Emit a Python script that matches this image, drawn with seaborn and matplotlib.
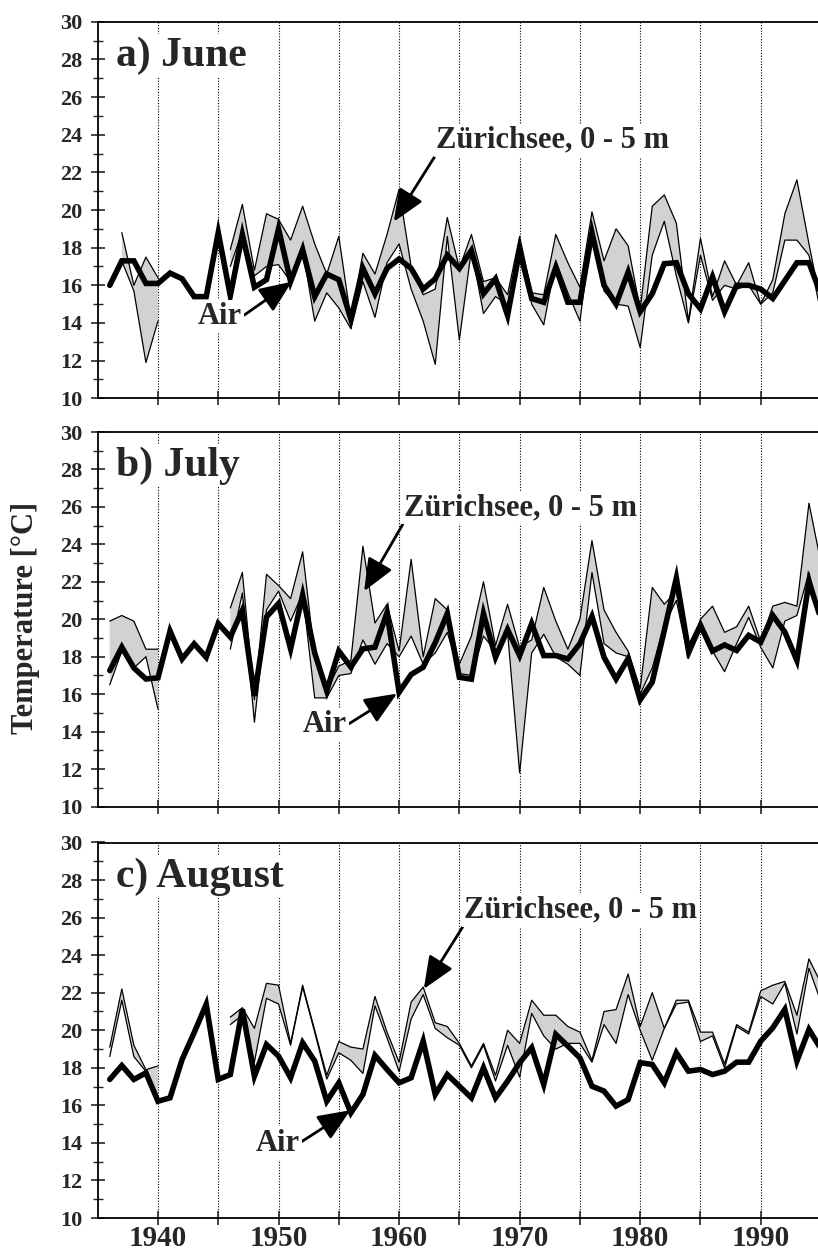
import numpy as np
import matplotlib
matplotlib.use("Agg")
import matplotlib.pyplot as plt
import seaborn as sns

nan = np.nan
years = list(range(1936, 1996))

june_air = [16.0, 17.3, 17.3, 16.1, 16.1, 16.65, 16.35, 15.4, 15.4, 18.8,
            15.45, 18.7, 15.9, 16.3, 19.0, 16.2, 17.9, 15.4, 16.6, 16.3,
            14.2, 16.9, 15.55, 16.9, 17.4, 16.9, 15.8, 16.35, 17.6, 16.9,
            17.85, 15.55, 16.35, 14.4, 17.85, 15.3, 15.1, 16.95, 15.1, 15.1,
            18.8, 16.0, 15.0, 16.7, 14.6, 15.55, 17.15, 17.2, 15.55, 14.75,
            16.45, 14.6, 16.0, 16.0, 15.8, 15.3, 16.25, 17.2, 17.2, 15.5]
june_lake_0m = [nan, 18.8, 16.0, 17.5, 16.4, nan, nan, nan, nan, nan,
                17.9, 20.3, 16.8, 19.8, 19.5, 18.4, 20.2, 18.2, 16.6, 18.6,
                14.2, 17.7, 16.6, 18.7, 21.1, 17.0, 15.5, 15.8, 19.6, 16.9,
                18.7, 16.2, 16.4, 15.5, 18.6, 15.6, 15.5, 18.7, 17.2, 15.9,
                19.9, 17.3, 19.0, 18.1, 14.7, 20.2, 20.8, 19.3, 14.1, 18.5,
                15.4, 17.3, 16.0, 17.2, 15.0, 16.3, 19.8, 21.6, 18.2, 15.0]
june_lake_5m = [nan, 17.3, 15.7, 11.9, 14.1, nan, nan, nan, nan, nan,
                17.0, 18.9, 16.5, 17.0, 17.1, 16.2, 17.9, 14.1, 15.6, 14.8,
                13.7, 16.2, 14.3, 17.2, 18.2, 15.8, 14.1, 11.8, 18.6, 13.1,
                17.9, 14.5, 15.4, 15.0, 17.9, 15.0, 13.9, 17.3, 15.6, 14.1,
                19.0, 15.7, 15.0, 14.9, 12.7, 17.6, 19.4, 16.5, 14.0, 17.6,
                15.2, 16.0, 15.8, 16.0, 15.0, 15.6, 18.4, 18.4, 17.6, 14.5]

july_air = [17.26, 18.51, 17.4, 16.81, 16.87, 19.37, 17.88, 18.69, 17.97, 19.77,
            19.05, 20.48, 15.91, 20.12, 20.84, 18.42, 21.29, 18.2, 16.18, 18.3,
            17.45, 18.42, 18.51, 20.35, 16.1, 17.05, 17.44, 18.75, 20.3, 16.9,
            16.8, 20.3, 17.97, 19.45, 18.06, 19.77, 18.06, 18.06, 17.88, 18.7,
            20.15, 17.97, 16.81, 17.9, 15.7, 16.64, 19.4, 22.2, 18.35, 19.68,
            18.3, 18.63, 18.33, 19.14, 18.78, 20.2, 19.32, 17.8, 22.0, 20.0]
july_lake_0m = [19.9, 20.2, 19.9, 18.4, 18.4, nan, nan, nan, nan, nan,
                20.6, 22.5, 15.7, 22.4, 21.8, 21.1, 23.6, 18.0, 16.2, 17.5,
                17.8, 23.9, 19.8, 20.8, 18.3, 23.2, 18.0, 21.1, 20.5, 17.6,
                19.1, 22.0, 18.6, 20.8, 18.5, 18.9, 21.7, 19.9, 18.4, 20.0,
                24.2, 20.5, 19.3, 18.3, 16.3, 21.7, 20.8, 21.5, 18.0, 20.0,
                20.7, 19.3, 19.6, 20.7, 18.8, 20.7, 20.9, 20.7, 26.2, 23.0]
july_lake_5m = [16.5, 18.3, 17.4, 18.0, 15.2, nan, nan, nan, nan, nan,
                18.4, 21.4, 14.5, 20.5, 21.5, 19.9, 21.4, 15.8, 15.8, 17.0,
                17.1, 18.9, 17.6, 18.7, 18.0, 19.1, 17.6, 18.2, 19.3, 17.1,
                17.0, 19.1, 18.3, 19.3, 11.8, 18.2, 19.2, 18.0, 17.6, 17.0,
                22.5, 18.7, 18.2, 18.0, 16.0, 17.4, 19.7, 21.0, 17.9, 19.4,
                18.3, 17.2, 18.7, 20.1, 18.5, 17.4, 19.9, 20.2, 22.5, 20.0]

aug_air = [17.38, 18.12, 17.38, 17.73, 16.22, 16.4, 18.44, 19.87, 21.38, 17.38,
           17.64, 21.11, 17.55, 19.24, 18.62, 17.47, 19.33, 18.36, 16.22, 17.2,
           15.6, 16.58, 18.66, 17.91, 17.2, 17.47, 19.42, 16.58, 17.64, 17.02,
           16.4, 18.0, 16.4, 17.29, 18.27, 19.07, 17.11, 19.78, 19.16, 18.53,
           17.02, 16.76, 15.96, 16.31, 18.27, 18.18, 17.2, 18.8, 17.82, 17.91,
           17.64, 17.82, 18.3, 18.3, 19.42, 20.13, 21.11, 18.36, 20.04, 19.0]
aug_lake_0m = [19.1, 22.2, 19.2, 17.9, 18.1, nan, nan, nan, nan, nan,
               20.7, 21.2, 20.1, 22.5, 22.4, 19.3, 22.4, 20.0, 17.6, 19.4,
               19.1, 19.0, 21.8, 19.9, 18.3, 21.5, 22.3, 20.4, 20.2, 19.3,
               18.1, 19.3, 17.6, 20.0, 19.3, 21.6, 20.8, 20.8, 20.2, 19.9,
               18.4, 21.0, 21.1, 23.0, 20.2, 22.0, 20.1, 21.6, 21.6, 19.9,
               19.9, 18.2, 20.3, 19.9, 22.1, 22.4, 22.6, 20.8, 23.8, 22.5]
aug_lake_5m = [18.6, 21.6, 18.6, 17.8, 16.1, nan, nan, nan, nan, nan,
               20.3, 20.8, 18.3, 21.7, 21.4, 19.2, 22.3, 19.9, 17.4, 18.8,
               18.4, 17.7, 21.3, 19.6, 17.8, 20.6, 21.9, 20.1, 19.6, 19.2,
               18.0, 19.2, 17.3, 19.2, 17.5, 20.9, 19.7, 19.0, 19.3, 19.3,
               18.3, 20.3, 19.3, 21.9, 20.0, 18.4, 20.1, 21.4, 21.5, 19.4,
               19.7, 18.0, 20.2, 19.8, 21.8, 21.4, 22.5, 19.8, 23.3, 21.5]

panel_titles = ["a) June", "b) July", "c) August"]
lake_label = "Zürichsee, 0 - 5 m"
air_label = "Air"
ylabel = "Temperature [°C]"

panels = [
    dict(air=june_air, top=june_lake_0m, bot=june_lake_5m,
         lake_txt=(1963.05, 23.7), lake_tip=(1959.56, 19.38),
         air_txt=(1945.15, 14.34), air_tip=(1951.1, 16.19)),
    dict(air=july_air, top=july_lake_0m, bot=july_lake_5m,
         lake_txt=(1960.4, 25.95), lake_tip=(1957.1, 21.5),
         air_txt=(1953.87, 14.36), air_tip=(1959.83, 16.03)),
    dict(air=aug_air, top=aug_lake_0m, bot=aug_lake_5m,
         lake_txt=(1965.4, 26.4), lake_tip=(1962.05, 22.2),
         air_txt=(1949.9, 13.99), air_tip=(1955.96, 15.74)),
]

sns.set_style("white")
plt.rcParams['font.family'] = ['Liberation Serif', 'DejaVu Serif']
plt.rcParams['font.weight'] = 'bold'

W, H = 818, 1256
fig = plt.figure(figsize=(W / 100, H / 100), dpi=100)

left = 97.7 / W
axes_px = [(21.7, 398.3), (432.0, 806.5), (842.5, 1218.0)]

yrs = np.array(years, dtype=float)


def segments(vals):
    v = np.array(vals, dtype=float)
    ok = ~np.isnan(v)
    segs = []
    start = None
    for i, flag in enumerate(ok):
        if flag and start is None:
            start = i
        if (not flag or i == len(ok) - 1) and start is not None:
            end = i if not flag else i + 1
            segs.append((start, end))
            start = None
    return segs


for k, (p, (t, b)) in enumerate(zip(panels, axes_px)):
    ax = fig.add_axes([left, 1 - b / H, 1.0 - left, (b - t) / H])
    top = np.array(p['top'], dtype=float)
    bot = np.array(p['bot'], dtype=float)
    ok = ~np.isnan(top)
    ax.fill_between(yrs, top, bot, where=ok, interpolate=False,
                    color='#d2d2d2', linewidth=0, zorder=2)
    for s, e in segments(top):
        sns.lineplot(x=yrs[s:e], y=top[s:e], ax=ax, color='black', lw=0.9,
                     zorder=3, estimator=None, sort=False)
        sns.lineplot(x=yrs[s:e], y=bot[s:e], ax=ax, color='black', lw=0.9,
                     zorder=3, estimator=None, sort=False)
    sns.lineplot(x=yrs, y=np.array(p['air']), ax=ax, color='black', lw=4.0,
                 zorder=4, estimator=None, sort=False,
                 solid_joinstyle='miter')

    ax.set_xlim(1935, 1994.75)
    ax.set_ylim(10, 30)
    ax.set_xticks(np.arange(1940, 1995, 5))
    ax.set_yticks(np.arange(10, 31, 2))
    ax.set_yticks(np.arange(11, 30, 2), minor=True)
    ax.set_yticklabels([str(v) for v in range(10, 31, 2)])
    if k == 2:
        ax.set_xticklabels([str(y) if y % 10 == 0 else "" for y in range(1940, 1995, 5)])
    else:
        ax.set_xticklabels([])
    ax.tick_params(axis='x', which='major', direction='inout', length=10,
                   width=1.2, labelsize=21, pad=0, bottom=True)
    ax.tick_params(axis='y', which='major', direction='inout', length=10,
                   width=1.2, labelsize=16, pad=6, left=True)
    ax.tick_params(axis='y', which='minor', direction='inout', length=7,
                   width=1.0, left=True)
    for lab in ax.get_xticklabels() + ax.get_yticklabels():
        lab.set_fontweight('bold')
    ax.xaxis.grid(True, linestyle=(0, (1, 1.5)), color='black', lw=0.8)
    ax.yaxis.grid(False)
    ax.set_axisbelow(True)
    for side in ['left', 'bottom', 'top']:
        ax.spines[side].set_visible(True)
        ax.spines[side].set_color('black')
        ax.spines[side].set_linewidth(1.3)
    ax.spines['right'].set_visible(False)
    ax.set_xlabel("")
    ax.set_ylabel("")

    bbox = dict(facecolor='white', edgecolor='none', pad=1.5)
    ax.text(1936.5, 27.65, panel_titles[k], fontsize=30, fontweight='bold',
            ha='left', va='baseline', zorder=6, bbox=bbox)
    ax.annotate(lake_label, xy=p['lake_tip'], xytext=p['lake_txt'],
                fontsize=22, fontweight='bold', ha='left', va='center',
                zorder=6, bbox=bbox,
                arrowprops=dict(arrowstyle='-|>,head_length=0.9,head_width=0.38',
                                color='black', lw=2.0, shrinkA=0, shrinkB=0,
                                relpos=(0.0, 0.0)))
    ax.annotate(air_label, xy=p['air_tip'], xytext=p['air_txt'],
                fontsize=22, fontweight='bold', ha='center', va='center',
                zorder=6, bbox=bbox,
                arrowprops=dict(arrowstyle='-|>,head_length=0.9,head_width=0.38',
                                color='black', lw=2.0, shrinkA=0, shrinkB=0,
                                relpos=(1.0, 0.5)))

fig.text(0.031, 0.508, ylabel, rotation=90, fontsize=22, fontweight='bold',
         ha='center', va='center')

fig.savefig("out.png", dpi=100)
